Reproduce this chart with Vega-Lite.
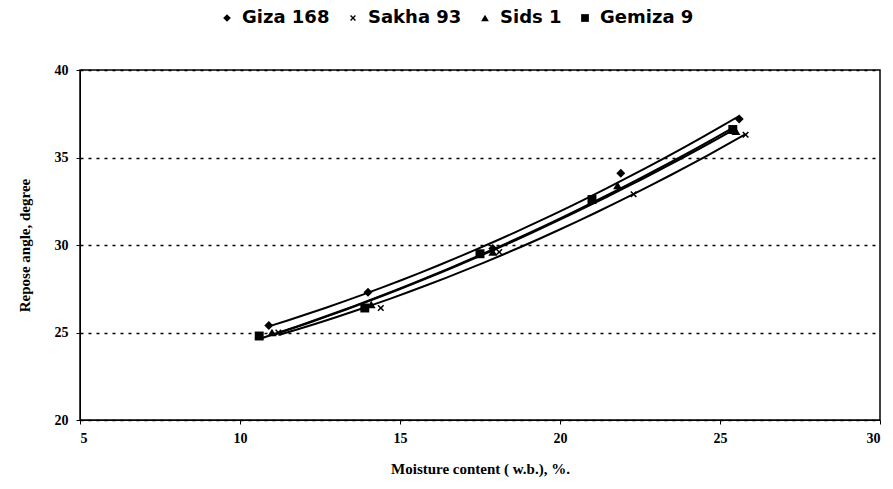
{
  "$schema": "https://vega.github.io/schema/vega-lite/v6.json",
  "width": 800,
  "height": 350,
  "autosize": {"type": "none"},
  "padding": {"left": 80, "top": 70, "right": 13, "bottom": 69},
  "background": "white",
  "config": {
    "view": {"stroke": "black", "strokeWidth": 1.5},
    "axis": {"labelFont": "Liberation Serif", "titleFont": "Liberation Serif", "labelFontWeight": "bold", "titleFontWeight": "bold", "labelColor": "black", "titleColor": "black", "domainColor": "black", "tickColor": "black", "labelFontSize": 14, "titleFontSize": 15}
  },
  "data": {"values": [
    {"v": "Giza 168", "m": 10.9, "a": 25.4},
    {"v": "Giza 168", "m": 14.0, "a": 27.3},
    {"v": "Giza 168", "m": 17.9, "a": 29.8},
    {"v": "Giza 168", "m": 21.9, "a": 34.1},
    {"v": "Giza 168", "m": 25.6, "a": 37.2},
    {"v": "Sakha 93", "m": 11.2, "a": 25.0},
    {"v": "Sakha 93", "m": 14.4, "a": 26.4},
    {"v": "Sakha 93", "m": 18.1, "a": 29.6},
    {"v": "Sakha 93", "m": 22.3, "a": 32.9},
    {"v": "Sakha 93", "m": 25.8, "a": 36.3},
    {"v": "Sids 1", "m": 11.0, "a": 25.0},
    {"v": "Sids 1", "m": 14.1, "a": 26.6},
    {"v": "Sids 1", "m": 17.9, "a": 29.6},
    {"v": "Sids 1", "m": 21.8, "a": 33.4},
    {"v": "Sids 1", "m": 25.5, "a": 36.5},
    {"v": "Gemiza 9", "m": 10.6, "a": 24.8},
    {"v": "Gemiza 9", "m": 13.9, "a": 26.4},
    {"v": "Gemiza 9", "m": 17.5, "a": 29.5},
    {"v": "Gemiza 9", "m": 21.0, "a": 32.6},
    {"v": "Gemiza 9", "m": 25.4, "a": 36.6}
  ]},
  "encoding": {
    "x": {"field": "m", "type": "quantitative", "scale": {"domain": [5, 30], "nice": false, "zero": false}, "title": "Moisture content ( w.b.), %.",
      "axis": {"values": [5, 10, 15, 20, 25, 30], "grid": false, "tickSize": 4, "labelPadding": 7, "titlePadding": 16}},
    "y": {"field": "a", "type": "quantitative", "scale": {"domain": [20, 40], "nice": false, "zero": false}, "title": "Repose angle, degree",
      "axis": {"values": [20, 25, 30, 35, 40], "grid": true, "gridColor": "black", "gridDash": [3, 5], "gridWidth": 1.5, "tickSize": 4, "labelPadding": 8, "titlePadding": 22}}
  },
  "layer": [
    {
      "transform": [{"regression": "a", "on": "m", "groupby": ["v"], "method": "poly", "order": 2}],
      "mark": {"type": "line", "color": "black", "strokeWidth": 2},
      "encoding": {
        "detail": {"field": "v"}
      }
    },
    {
      "mark": {"type": "point", "filled": true, "opacity": 1, "size": 80},
      "encoding": {
        "shape": {"field": "v", "type": "nominal",
          "scale": {"domain": ["Giza 168", "Sakha 93", "Sids 1", "Gemiza 9"], "range": ["diamond", "M-0.75,-0.5L-0.5,-0.75L0,-0.25L0.5,-0.75L0.75,-0.5L0.25,0L0.75,0.5L0.5,0.75L0,0.25L-0.5,0.75L-0.75,0.5L-0.25,0Z", "triangle-up", "square"]},
          "legend": {"title": null, "orient": "none", "legendX": 138, "legendY": -61, "direction": "horizontal", "labelFont": "DejaVu Sans", "labelFontWeight": "bold", "labelFontSize": 18, "labelColor": "black", "symbolFillColor": "black", "symbolSize": 60, "columnPadding": 14, "labelOffset": 6}
        },
        "color": {"value": "black"}
      }
    }
  ]
}
